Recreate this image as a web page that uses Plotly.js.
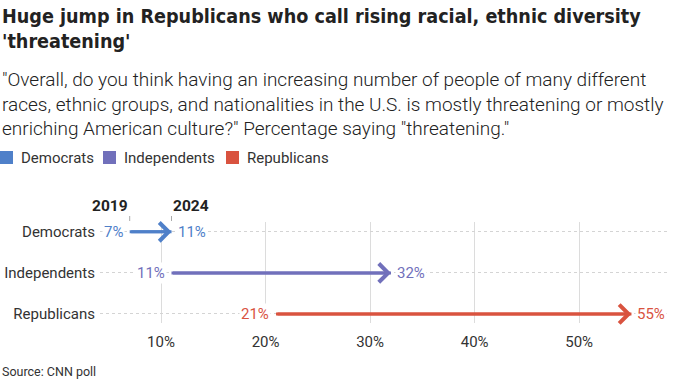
<!DOCTYPE html>
<html><head><meta charset="utf-8">
<script src="https://cdn.plot.ly/plotly-3.0.1.min.js"></script>
<style>html,body{margin:0;padding:0;background:#fff;}#chart{width:680px;height:381px;}</style>
</head><body><div id="chart"></div>
<script>
const categories = ['Democrats', 'Independents', 'Republicans'];
const years = ['2019', '2024'];
const values2019 = [7, 11, 21];
const values2024 = [11, 32, 55];
const xTickVals = [10, 20, 30, 40, 50];
const xTickText = ['10%', '20%', '30%', '40%', '50%'];
const colors = ['#4f80c9', '#7170bb', '#d9533f'];
const titleText = "Huge jump in Republicans who call rising racial, ethnic diversity<br>'threatening'";
const subtitleText = '"Overall, do you think having an increasing number of people of many different<br>races, ethnic groups, and nationalities in the U.S. is mostly threatening or mostly<br>enriching American culture?" Percentage saying "threatening."';
const sourceText = 'Source: CNN poll';

const W = 680, H = 381, L = 100, R = 12, T = 222, B = 58;
const pw = W - L - R, ph = H - T - B;
const px = x => (x - L) / pw;
const py = y => (H - B - y) / ph;

const FONT = 'Roboto, "Liberation Sans", Arial, sans-serif';
const HEAD = '"DejaVu Sans Condensed", Roboto, sans-serif';

const traces = categories.map((c, i) => ({
  type: 'scatter', mode: 'lines',
  x: [values2019[i], values2024[i]], y: [c, c],
  line: {color: colors[i], width: 3},
  hoverinfo: 'skip', showlegend: false
}));

const annotations = [];
const shapes = [];

annotations.push({xref: 'paper', yref: 'paper', x: px(0), y: py(3), xanchor: 'left', yanchor: 'top',
  text: '<b>' + titleText + '</b>', align: 'left', showarrow: false,
  font: {family: HEAD, size: 19.6, color: '#222'}});
annotations.push({xref: 'paper', yref: 'paper', x: px(0), y: py(66), xanchor: 'left', yanchor: 'top',
  text: subtitleText, align: 'left', showarrow: false,
  font: {family: FONT, size: 19, color: '#222', weight: 300}});
annotations.push({xref: 'paper', yref: 'paper', x: px(0), y: py(371), xanchor: 'left', yanchor: 'middle',
  text: sourceText, align: 'left', showarrow: false,
  font: {family: FONT, size: 12.5, color: '#333'}});

// legend
const legSq = [0, 103, 226];
categories.forEach((c, i) => {
  shapes.push({type: 'rect', xref: 'paper', yref: 'paper', x0: px(legSq[i]), x1: px(legSq[i] + 13),
    y0: py(164), y1: py(151), fillcolor: colors[i], line: {width: 0}});
  annotations.push({xref: 'paper', yref: 'paper', x: px(legSq[i] + 19), y: py(157.5), xanchor: 'left', yanchor: 'middle',
    text: c, showarrow: false, font: {family: FONT, size: 15, color: '#333'}});
});

// year labels above first row
annotations.push({xref: 'x', yref: 'paper', x: values2019[0], y: py(206), xanchor: 'right', yanchor: 'middle',
  text: '<b>' + years[0] + '</b>', showarrow: false, xshift: 0, font: {family: FONT, size: 15.5, color: '#222'}});
annotations.push({xref: 'x', yref: 'paper', x: values2024[0], y: py(206), xanchor: 'left', yanchor: 'middle',
  text: '<b>' + years[1] + '</b>', showarrow: false, xshift: -1, font: {family: FONT, size: 15.5, color: '#222'}});
[values2019[0], values2024[0]].forEach(v => {
  shapes.push({type: 'line', xref: 'x', yref: 'paper', x0: v, x1: v, y0: py(221), y1: py(216),
    line: {color: '#aaa', width: 1}});
});

// arrows and value labels
categories.forEach((c, i) => {
  annotations.push({xref: 'x', yref: 'y', axref: 'x', ayref: 'y', x: values2024[i], y: c, ax: values2019[i], ay: c,
    text: '', showarrow: true, arrowhead: 4, arrowsize: 1.2, arrowwidth: 3, arrowcolor: colors[i], standoff: 0});
  annotations.push({xref: 'x', yref: 'y', x: values2019[i], y: c, xanchor: 'right', yanchor: 'middle', xshift: -5,
    text: values2019[i] + '%', showarrow: false, bgcolor: '#fff', borderpad: 1,
    font: {family: FONT, size: 15, color: colors[i]}});
  annotations.push({xref: 'x', yref: 'y', x: values2024[i], y: c, xanchor: 'left', yanchor: 'middle', xshift: 4,
    text: values2024[i] + '%', showarrow: false, bgcolor: '#fff', borderpad: 1,
    font: {family: FONT, size: 15, color: colors[i]}});
});

const layout = {
  width: W, height: H,
  margin: {l: L, r: R, t: T, b: B, pad: 0},
  paper_bgcolor: '#fff', plot_bgcolor: '#fff',
  showlegend: false,
  xaxis: {range: [4.16, 58.5], tickvals: xTickVals, ticktext: xTickText, showgrid: true, gridcolor: '#dcdcdc', gridwidth: 1,
    zeroline: false, showline: false, ticks: '', ticklabelstandoff: 8,
    tickfont: {family: FONT, size: 15, color: '#333'}, fixedrange: true},
  yaxis: {type: 'category', categoryarray: categories, categoryorder: 'array', range: [2.22, -0.24],
    showgrid: true, gridcolor: '#d4d4d4', griddash: 'dot', gridwidth: 1, zeroline: false, showline: false, ticks: '',
    ticklabelstandoff: 4, tickfont: {family: FONT, size: 15, color: '#333'}, fixedrange: true},
  annotations: annotations, shapes: shapes
};

Plotly.newPlot('chart', traces, layout, {displayModeBar: false, staticPlot: true});
</script></body></html>
